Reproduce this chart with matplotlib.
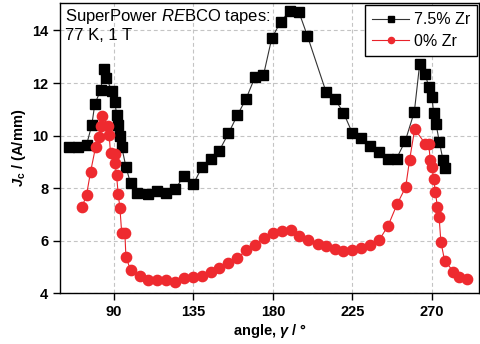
import matplotlib
matplotlib.use("Agg")
import matplotlib.pyplot as plt

plt.rcParams['font.family'] = ['Liberation Sans', 'DejaVu Sans']
plt.rcParams['mathtext.fontset'] = 'custom'
plt.rcParams['mathtext.it'] = 'Liberation Sans:italic'
plt.rcParams['mathtext.bf'] = 'Liberation Sans:italic:bold'
plt.rcParams['mathtext.rm'] = 'Liberation Sans:bold'

# 7.5% Zr
zr_angle = [64.7, 69.7, 74.5, 77.5, 79.2, 82.5, 84.3, 85.8, 88.7, 90.6,
            91.5, 92.4, 93.4, 94.4, 96.8, 99.4, 102.8, 109.4, 114.5, 119.5,
            124.6, 129.7, 134.9, 139.9, 145.0, 149.6, 154.8, 159.9, 164.8, 169.9,
            174.6, 179.3, 184.4, 189.7, 194.6, 199.5, 210.1, 215.0, 219.9, 224.8,
            229.9, 235.0, 240.1, 245.1, 249.9, 254.9, 260.0, 263.0, 266.2, 268.1,
            270.0, 270.9, 272.3, 274.1, 276.2, 277.2]
zr_jc = [9.57, 9.57, 9.64, 10.40, 11.20, 11.73, 12.52, 12.20, 11.70, 11.29,
         10.78, 10.40, 9.98, 9.57, 8.81, 8.18, 7.82, 7.76, 7.89, 7.82,
         7.95, 8.47, 8.14, 8.81, 9.12, 9.42, 10.08, 10.78, 11.40, 12.24,
         12.29, 13.70, 14.34, 14.76, 14.72, 13.79, 11.65, 11.39, 10.87, 10.11,
         9.92, 9.61, 9.37, 9.12, 9.12, 9.80, 10.91, 12.72, 12.33, 11.86,
         11.46, 10.85, 10.43, 9.77, 9.07, 8.75]

# 0% Zr
ref_angle = [72.0, 74.5, 76.8, 79.6, 81.5, 82.5, 83.4, 86.8, 87.3, 88.1,
             90.6, 90.6, 91.5, 92.4, 93.4, 94.4, 96.2, 96.8, 99.4, 104.7,
             109.4, 114.5, 119.5, 124.6, 129.7, 134.6, 139.7, 144.8, 149.7, 154.8,
             159.9, 164.8, 169.9, 175.0, 179.9, 185.0, 190.1, 194.8, 200.1, 205.2,
             210.1, 215.2, 219.9, 225.0, 229.9, 235.0, 240.1, 245.1, 250.2, 255.1,
             257.3, 260.2, 266.2, 268.1, 269.0, 270.0, 270.9, 271.9, 273.0, 274.0,
             275.0, 277.1, 282.1, 285.1, 289.8]
ref_jc = [7.29, 7.73, 8.62, 9.55, 9.93, 10.36, 10.74, 10.36, 10.02, 9.32,
          9.30, 8.94, 8.50, 7.78, 7.25, 6.30, 6.30, 5.38, 4.88, 4.66,
          4.50, 4.50, 4.50, 4.41, 4.56, 4.61, 4.66, 4.81, 4.96, 5.13,
          5.32, 5.64, 5.85, 6.11, 6.27, 6.36, 6.40, 6.17, 6.02, 5.87,
          5.79, 5.69, 5.61, 5.64, 5.73, 5.83, 6.02, 6.56, 7.38, 8.04,
          9.07, 10.25, 9.68, 9.68, 9.08, 8.80, 8.34, 7.86, 7.29, 6.90,
          5.96, 5.24, 4.82, 4.62, 4.52]

xticks = [90, 135, 180, 225, 270]
yticks = [4, 6, 8, 10, 12, 14]

fig = plt.figure(figsize=(4.8, 3.44), dpi=100)
ax = fig.add_axes([0.125, 0.148, 0.873, 0.842])

ax.plot(zr_angle, zr_jc, color='#333333', lw=0.8, marker='s', ms=6.5,
        mfc='black', mec='black', label='7.5% Zr', zorder=3)
ax.plot(ref_angle, ref_jc, color='#e8222a', lw=0.8, marker='o', ms=7.4,
        mfc='#ee2a2f', mec='#ee2a2f', label='0% Zr', zorder=4)

ax.set_xlim(59.5, 296.6)
ax.set_ylim(4, 15.03)
ax.set_xticks(xticks)
ax.set_yticks(yticks)
ax.grid(True, color='#c4c4c4', ls=(0, (3.5, 2.5)), lw=0.8)
ax.set_axisbelow(True)

for s in ax.spines.values():
    s.set_linewidth(1.0)
ax.tick_params(direction='out', length=5, width=1, labelsize=10.5)
for lab in ax.get_xticklabels() + ax.get_yticklabels():
    lab.set_fontweight('bold')

ax.set_xlabel(r'angle, $\mathbf{\gamma}$ / °', fontsize=10.5, fontweight='bold', labelpad=2)
ax.set_ylabel(r'$\mathbf{J}_\mathrm{c}$ / (A/mm)', fontsize=10.5, fontweight='bold', labelpad=3)

ax.text(0.012, 0.988, 'SuperPower $RE$BCO tapes:\n77 K, 1 T', transform=ax.transAxes,
        ha='left', va='top', fontsize=12, linespacing=1.15)

leg = ax.legend(loc='upper right', fontsize=11.5, frameon=True, fancybox=False,
                edgecolor='black', framealpha=1, markerscale=0.6,
                handlelength=2.3, handletextpad=0.3, borderpad=0.45,
                labelspacing=0.4, borderaxespad=0.1)
leg.get_frame().set_linewidth(1.0)

fig.savefig('out.png', dpi=100)
